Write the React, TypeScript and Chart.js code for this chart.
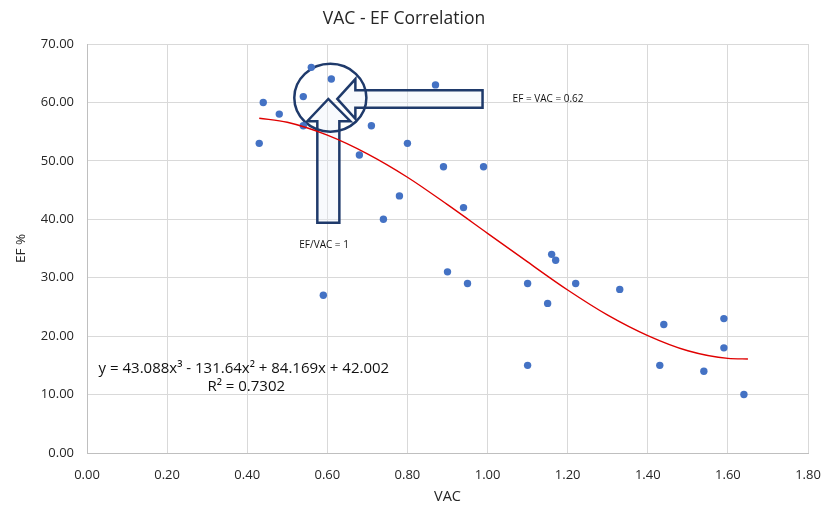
import { useEffect, useRef } from "react";
import { Chart, registerables } from "chart.js";
import type { Plugin } from "chart.js";

Chart.register(...registerables);

// measured points (VAC, EF %)
const vac = [0.44, 0.43, 0.48, 0.56, 0.54, 0.61, 0.54, 0.71, 0.8, 0.68, 0.87, 0.89, 0.99, 0.78, 0.94, 0.74, 0.59, 0.9, 0.95, 1.1, 1.16, 1.17, 1.15, 1.22, 1.33, 1.1, 1.44, 1.43, 1.59, 1.59, 1.54, 1.64];
const ef = [60, 53, 58, 66, 61, 64, 56, 56, 53, 51, 63, 49, 49, 44, 42, 40, 27, 31, 29, 29, 34, 33, 25.6, 29, 28, 15, 22, 15, 23, 18, 14, 10];

// polynomial trendline
const trendVac = [0.43, 0.5, 0.6, 0.7, 0.8, 0.9, 1.0, 1.1, 1.2, 1.3, 1.4, 1.5, 1.6, 1.65];
const trendEf = [57.3, 56.6, 54.4, 51.2, 47.2, 42.5, 37.6, 32.7, 27.9, 23.6, 20.1, 17.5, 16.2, 16.1];

const xTicks = { min: 0, max: 1.8, step: 0.2 };
const yTicks = { min: 0, max: 70, step: 10 };

const equationText = "y = 43.088x³ - 131.64x² + 84.169x + 42.002";
const r2Text = "R² = 0.7302";
const labelEqual = "EF = VAC = 0.62";
const labelRatio = "EF/VAC = 1";

const NAVY = "#1f3a6b";
const TEXT = "#262626";

// callout shapes, in data units
const circle = { x: 0.6075, y: 60.8, rx: 0.09, ry: 5.8 };
const upArrow: [number, number][] = [
  [0.575, 39.4], [0.63, 39.4], [0.63, 56.8], [0.6575, 56.8],
  [0.6025, 60.6], [0.55, 56.8], [0.575, 56.8],
];
const leftArrow: [number, number][] = [
  [0.625, 60.6], [0.67, 64.0], [0.67, 62.1], [0.9875, 62.1],
  [0.9875, 59.1], [0.67, 59.1], [0.67, 57.2],
];
const notes = [
  { text: labelEqual, x: 1.0625, y: 60.6, size: 10, align: "left" as CanvasTextAlign },
  { text: labelRatio, x: 0.53, y: 35.5, size: 10, align: "left" as CanvasTextAlign },
  { text: equationText, x: 0.029, y: 14.4, size: 15, align: "left" as CanvasTextAlign },
  { text: r2Text, x: 0.3975, y: 11.35, size: 15, align: "center" as CanvasTextAlign },
];

const calloutPlugin: Plugin<"scatter"> = {
  id: "callout",
  beforeDatasetsDraw(chart) {
    const { ctx, scales } = chart;
    const px = (v: number) => scales.x.getPixelForValue(v);
    const py = (v: number) => scales.y.getPixelForValue(v);
    ctx.save();
    ctx.strokeStyle = NAVY;
    ctx.lineWidth = 2.5;
    ctx.lineJoin = "miter";
    ctx.fillStyle = "rgba(235, 240, 248, 0.35)";
    [upArrow, leftArrow].forEach((poly) => {
      ctx.beginPath();
      poly.forEach(([x, y], i) => (i ? ctx.lineTo(px(x), py(y)) : ctx.moveTo(px(x), py(y))));
      ctx.closePath();
      ctx.fill();
      ctx.stroke();
    });
    const cx = px(circle.x);
    const cy = py(circle.y);
    ctx.beginPath();
    ctx.ellipse(cx, cy, px(circle.x + circle.rx) - cx, cy - py(circle.y + circle.ry), 0, 0, Math.PI * 2);
    ctx.stroke();
    ctx.restore();
  },
  afterDatasetsDraw(chart) {
    const { ctx, scales } = chart;
    ctx.save();
    ctx.fillStyle = "#111111";
    ctx.textBaseline = "middle";
    notes.forEach((n) => {
      ctx.font = `${n.size}px 'Open Sans', sans-serif`;
      ctx.textAlign = n.align;
      ctx.fillText(n.text, scales.x.getPixelForValue(n.x), scales.y.getPixelForValue(n.y));
    });
    ctx.restore();
  },
};

export default function App() {
  const chartRef = useRef<HTMLCanvasElement>(null);
  const chartInstance = useRef<Chart | null>(null);

  useEffect(() => {
    document.body.style.margin = "0";
    if (!chartRef.current) return;
    if (chartInstance.current) chartInstance.current.destroy();

    const ctx = chartRef.current.getContext("2d");
    if (!ctx) return;

    Chart.defaults.font.family = "'Open Sans', sans-serif";

    chartInstance.current = new Chart(ctx, {
      type: "scatter",
      data: {
        datasets: [
          {
            label: "EF",
            data: vac.map((x, i) => ({ x, y: ef[i] })),
            backgroundColor: "#4472c4",
            borderColor: "#4472c4",
            pointRadius: 3.7,
            pointBorderWidth: 0,
            order: 2,
          },
          {
            label: "Poly. (EF)",
            data: trendVac.map((x, i) => ({ x, y: trendEf[i] })),
            showLine: true,
            borderColor: "#e00000",
            borderWidth: 1.4,
            pointRadius: 0,
            cubicInterpolationMode: "monotone",
            order: 1,
          },
        ],
      },
      options: {
        animation: false,
        responsive: true,
        maintainAspectRatio: false,
        layout: { padding: { top: 0, right: 21, bottom: 0, left: 0 } },
        plugins: {
          legend: { display: false },
          tooltip: { enabled: false },
          title: {
            display: true,
            text: "VAC - EF Correlation",
            color: TEXT,
            font: { size: 17.5, weight: "normal" },
            padding: { top: 8.2, bottom: 14.8 },
          },
        },
        scales: {
          x: {
            type: "linear",
            min: xTicks.min,
            max: xTicks.max,
            afterFit: (s) => {
              s.height = 61;
            },
            ticks: {
              stepSize: xTicks.step,
              color: TEXT,
              font: { size: 13, lineHeight: 2.4 },
              padding: 7,
              maxRotation: 0,
              callback: (v) => Number(v).toFixed(2),
            },
            grid: { color: "#d9d9d9", drawTicks: false },
            border: { color: "#bfbfbf" },
            title: {
              display: true,
              text: "VAC",
              color: TEXT,
              font: { size: 14.5 },
              padding: { top: 0, bottom: 8.6 },
            },
          },
          y: {
            type: "linear",
            min: yTicks.min,
            max: yTicks.max,
            afterFit: (s) => {
              s.width = 87;
            },
            ticks: {
              stepSize: yTicks.step,
              color: TEXT,
              font: { size: 13 },
              padding: 13,
              callback: (v) => Number(v).toFixed(2),
            },
            grid: { color: "#d9d9d9", drawTicks: false },
            border: { color: "#bfbfbf" },
            title: {
              display: true,
              text: "EF %",
              color: TEXT,
              font: { size: 13.5 },
              padding: { top: 13, bottom: 0 },
            },
          },
        },
      },
      plugins: [calloutPlugin],
    });

    return () => {
      if (chartInstance.current) {
        chartInstance.current.destroy();
        chartInstance.current = null;
      }
    };
  }, []);

  return (
    <div style={{ width: 829, height: 514, position: "relative", background: "#fff" }}>
      <canvas ref={chartRef}></canvas>
    </div>
  );
}
